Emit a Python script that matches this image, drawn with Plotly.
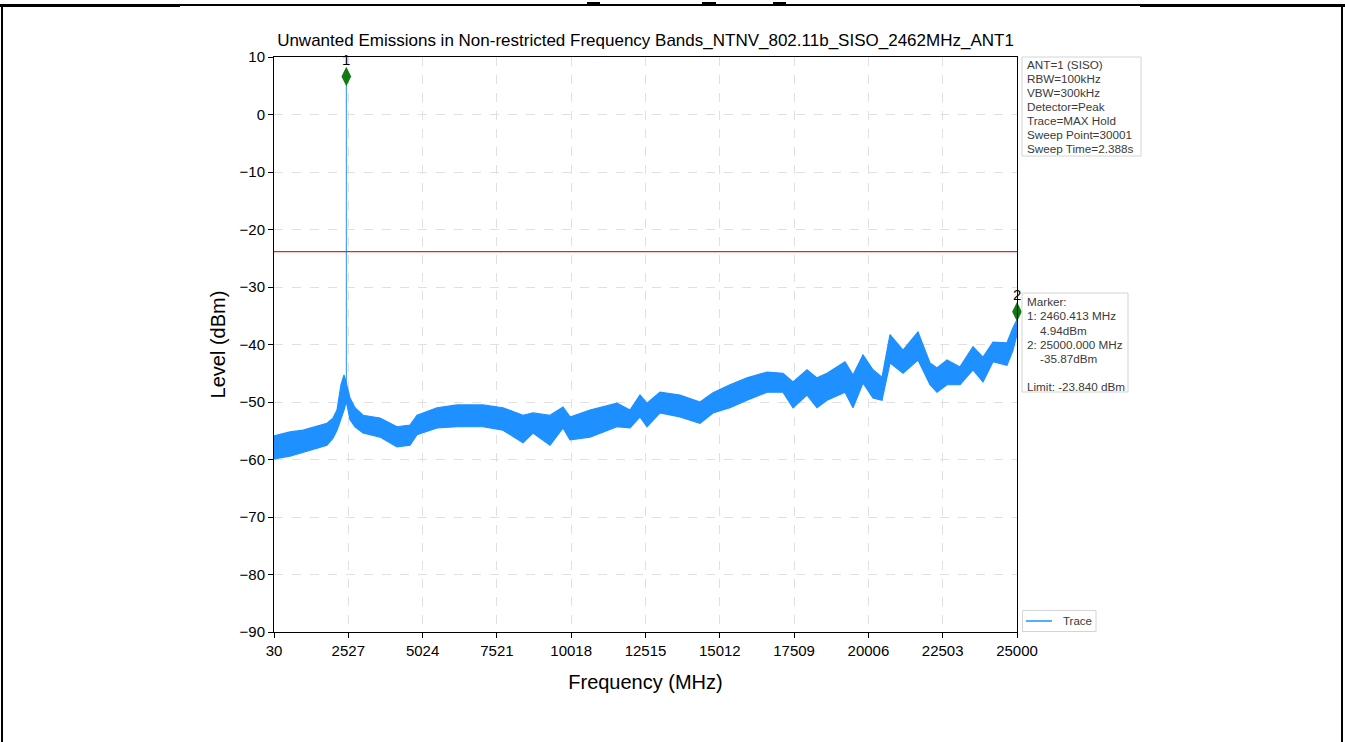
import plotly.graph_objects as go

# ---------------- data ----------------
freq_mhz = [30, 568, 1005, 1509, 1811, 2013, 2147, 2282, 2383, 2460, 2584, 2752, 3021,
            3592, 4164, 4601, 4836, 5508, 6180, 7054, 7726, 8398, 8734, 9306, 9743,
            9978, 10650, 11557, 11994, 12330, 12565, 13002, 13674, 14347, 14783, 15355,
            15926, 16598, 17136, 17472, 17943, 18279, 18615, 19220, 19489, 19824, 20160,
            20463, 20732, 21169, 21673, 22076, 22311, 22647, 23084, 23521, 23857, 24193,
            24663, 24865, 25000]
upper_dbm = [-55.9, -55.2, -54.9, -54.2, -53.7, -52.8, -51.4, -47.0, -45.3, -46.7, -49.3,
             -51.0, -52.3, -52.8, -54.3, -54.0, -52.3, -51.0, -50.5, -50.5, -51.0, -52.3,
             -51.9, -52.3, -50.9, -52.6, -51.4, -50.2, -51.4, -48.8, -50.2, -48.3, -48.8,
             -50.0, -48.4, -47.0, -45.8, -44.8, -45.0, -46.5, -44.4, -45.8, -45.0, -43.0,
             -45.3, -41.8, -44.4, -45.7, -38.3, -41.0, -37.8, -43.2, -44.1, -42.7, -43.9,
             -40.4, -42.2, -39.6, -39.7, -37.1, -35.7]
lower_dbm = [-59.9, -59.4, -58.7, -58.0, -57.5, -56.3, -54.9, -52.8, -51.4, -49.9, -53.1,
             -54.3, -55.4, -56.1, -57.8, -57.5, -55.7, -54.5, -54.3, -54.3, -54.9, -57.1,
             -55.4, -57.5, -54.5, -56.6, -56.1, -54.3, -54.5, -52.6, -54.3, -51.9, -52.6,
             -53.7, -51.9, -51.0, -49.7, -48.3, -48.3, -51.0, -48.8, -51.0, -49.7, -48.3,
             -51.0, -46.7, -49.3, -49.7, -43.2, -45.0, -42.7, -47.0, -48.3, -47.0, -47.0,
             -44.4, -46.5, -43.0, -43.6, -41.0, -38.3]

peak_freq = [2460.413, 2460.413]
peak_level = [-46.7, 6.6]

marker_freq = [2460.413, 25000.0]
marker_level = [6.6, -34.3]
marker_names = ["1", "2"]

limit_dbm = -23.84

x_ticks = [30, 2527, 5024, 7521, 10018, 12515, 15012, 17509, 20006, 22503, 25000]
y_ticks = [10, 0, -10, -20, -30, -40, -50, -60, -70, -80, -90]

info_lines = ["ANT=1 (SISO)", "RBW=100kHz", "VBW=300kHz", "Detector=Peak",
              "Trace=MAX Hold", "Sweep Point=30001", "Sweep Time=2.388s"]
marker_lines = ["Marker:", "1: 2460.413 MHz", "\u00a0\u00a0\u00a0\u00a04.94dBm",
                "2: 25000.000 MHz", "\u00a0\u00a0\u00a0\u00a0-35.87dBm", "",
                "Limit: -23.840 dBm"]
legend_label = "Trace"

title_text = "Unwanted Emissions in Non-restricted Frequency Bands_NTNV_802.11b_SISO_2462MHz_ANT1"

# ---------------- figure ----------------
BLUE = "#1E90FF"
FONT = "Liberation Sans, Arial, sans-serif"
TXT = "#3a3a3a"
BOXLINE = "#d4d4d4"

# plot area in page pixels
L, R, T, B = 274, 1017, 57, 632
W, H = 1345, 742
pw, ph = R - L, B - T


def px(xp):
    return (xp - L) / pw


def py(yp):
    return (B - yp) / ph


fig = go.Figure()

# noise band (upper envelope then lower envelope reversed)
fig.add_trace(go.Scatter(
    x=freq_mhz + freq_mhz[::-1],
    y=upper_dbm + lower_dbm[::-1],
    fill="toself", fillcolor=BLUE, mode="lines",
    line=dict(color=BLUE, width=1.2), showlegend=False, hoverinfo="skip"))

# carrier spike
fig.add_trace(go.Scatter(
    x=peak_freq, y=peak_level, mode="lines", name=legend_label,
    line=dict(color=BLUE, width=1), showlegend=False))

# limit line
fig.add_trace(go.Scatter(
    x=[x_ticks[0], x_ticks[-1]], y=[limit_dbm, limit_dbm], mode="lines",
    line=dict(color="#E3262B", width=1.2), showlegend=False))

# markers
fig.add_trace(go.Scatter(
    x=marker_freq, y=marker_level, mode="markers",
    marker=dict(symbol="diamond-tall", color="#137a13", size=14),
    showlegend=False, cliponaxis=False))

for f, lv, nm in zip(marker_freq, marker_level, marker_names):
    fig.add_annotation(x=f, y=lv, text=nm, showarrow=False, yshift=17,
                       font=dict(family=FONT, size=15, color="black"))


def text_box(lines, left, top, right, bottom, first_center, pitch):
    fig.add_shape(type="rect", xref="paper", yref="paper",
                  x0=px(left), x1=px(right), y0=py(bottom), y1=py(top),
                  line=dict(color=BOXLINE, width=1), fillcolor="white", layer="above")
    for i, s in enumerate(lines):
        if not s:
            continue
        fig.add_annotation(xref="paper", yref="paper", x=px(left + 3), y=py(first_center + i * pitch),
                           xanchor="left", yanchor="middle", showarrow=False, text=s,
                           font=dict(family=FONT, size=11.7, color=TXT))


text_box(info_lines, 1022, 57, 1141, 156, 64, 14.1)
text_box(marker_lines, 1022, 293, 1128, 392, 301.7, 14.15)

# legend drawn by hand (matplotlib-style short line)
fig.add_shape(type="rect", xref="paper", yref="paper",
              x0=px(1022.5), x1=px(1096), y0=py(631.5), y1=py(610.5),
              line=dict(color=BOXLINE, width=1), fillcolor="white", layer="above")
fig.add_shape(type="line", xref="paper", yref="paper",
              x0=px(1026), x1=px(1052), y0=py(621), y1=py(621),
              line=dict(color=BLUE, width=1.5), layer="above")
fig.add_annotation(xref="paper", yref="paper", x=px(1061), y=py(621),
                   xanchor="left", yanchor="middle", showarrow=False, text=legend_label,
                   font=dict(family=FONT, size=11.5, color=TXT))


# page border (document frame around the chart)
def page_rect(x0, y0, x1, y1):
    fig.add_shape(type="rect", xref="paper", yref="paper",
                  x0=px(x0), x1=px(x1), y0=py(y1), y1=py(y0),
                  line=dict(width=0), fillcolor="black", layer="above")


page_rect(1, 4, 3, 742)        # left edge
page_rect(1341, 4, 1343, 742)  # right edge
page_rect(0, 4, 1345, 6)       # top edge
fig.add_shape(type="line", xref="paper", yref="paper", x0=px(0), x1=px(1345),
              y0=py(5), y1=py(5), line=dict(color="black", width=2), layer="above")
page_rect(0, 4, 180, 7)        # thicker top segments
page_rect(1140, 4, 1345, 7)
page_rect(587, 2, 600, 5)      # small marks on the frame
page_rect(702, 2, 716, 5)
page_rect(773, 2, 786, 5)

fig.update_layout(
    width=W, height=H,
    margin=dict(l=L, r=W - R, t=T, b=H - B, autoexpand=False),
    paper_bgcolor="white", plot_bgcolor="white",
    font=dict(family=FONT, color="black"),
    title=dict(text=title_text, x=0.5, xref="paper", y=1 - 40 / H, yref="container",
               xanchor="center", yanchor="middle",
               font=dict(family=FONT, size=17, color="black")),
    showlegend=False,
)

fig.update_xaxes(
    range=[x_ticks[0], x_ticks[-1]], tickvals=x_ticks, ticktext=[str(v) for v in x_ticks],
    showline=True, linecolor="black", linewidth=1, mirror=True,
    ticks="outside", ticklen=5, tickcolor="black",
    showgrid=True, gridcolor="#e0e0e0", griddash="dash", gridwidth=1,
    zeroline=False, tickfont=dict(family=FONT, size=15, color="black"),
    title=dict(text="Frequency (MHz)", font=dict(family=FONT, size=20, color="black"), standoff=16),
)
fig.update_yaxes(
    range=[y_ticks[-1], y_ticks[0]], tickvals=y_ticks,
    ticktext=[str(v).replace("-", "\u2212") for v in y_ticks],
    showline=True, linecolor="black", linewidth=1, mirror=True,
    ticks="outside", ticklen=5, tickcolor="black",
    showgrid=True, gridcolor="#e0e0e0", griddash="dash", gridwidth=1,
    zeroline=False, tickfont=dict(family=FONT, size=15, color="black"),
    title=dict(text="Level (dBm)", font=dict(family=FONT, size=20, color="black"), standoff=8),
)

fig.write_html("out.html",
               config={"displayModeBar": False},
               post_script="document.body.style.margin='0';document.body.style.padding='0';")
